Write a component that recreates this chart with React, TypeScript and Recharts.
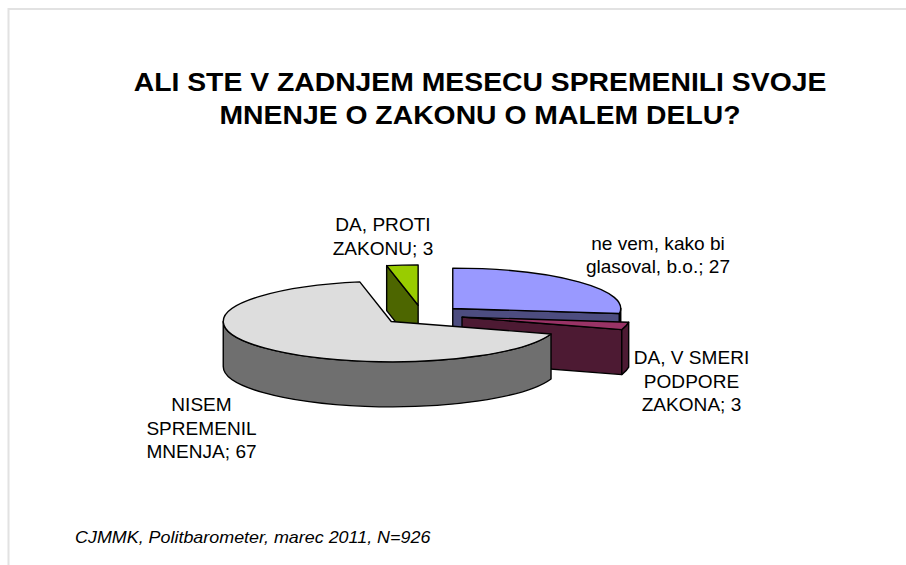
import { Pie, PieChart } from "recharts";

const FONT = "'Liberation Sans', Arial, sans-serif";

// drawing order = data order, green sits behind everything so it goes first
const categories = [
  "DA, PROTI ZAKONU",
  "ne vem, kako bi glasoval, b.o.",
  "DA, V SMERI PODPORE ZAKONA",
  "NISEM SPREMENIL MNENJA",
];
const values = [3, 27, 3, 67];
const titleLines = [
  "ALI STE V ZADNJEM MESECU SPREMENILI SVOJE",
  "MNENJE O ZAKONU O MALEM DELU?",
];
const source = "CJMMK, Politbarometer, marec 2011, N=926";

const topColors = ["#99cc00", "#9999ff", "#993366", "#dddddd"];
const sideColors = ["#4d6600", "#4d4d80", "#4d1a33", "#6f6f6f"];

// wrapped lines, block centre and first baseline of each label
const labelLayout = [
  { lines: ["DA, PROTI", "ZAKONU; 3"], x: 383, y: 231 },
  { lines: ["ne vem, kako bi", "glasoval, b.o.; 27"], x: 658, y: 249.5 },
  { lines: ["DA, V SMERI", "PODPORE", "ZAKONA; 3"], x: 691.5, y: 364 },
  { lines: ["NISEM", "SPREMENIL", "MNENJA; 67"], x: 201.5, y: 411 },
];

const chartData = categories.map((name, i) => ({ name, value: values[i] }));

const TILT = 0.24;
const DEPTH = 45;
const EXPLODE = 41;
const RAD = Math.PI / 180;
const STRETCH = 1.09; // the source picture is a bit wider than it is tall

function Slice3D(props: any) {
  const { cx, cy, outerRadius: r, startAngle: s, endAngle: e, index } = props;
  const mid = (s + e) / 2;
  // exploded apex of this slice
  const ax = cx + EXPLODE * Math.cos(mid * RAD);
  const ay = cy - EXPLODE * TILT * Math.sin(mid * RAD);
  const rim = (a: number, dy = 0) =>
    [ax + r * Math.cos(a * RAD), ay - r * TILT * Math.sin(a * RAD) + dy] as const;
  const arc = (from: number, to: number, dy = 0, back = false) => {
    const [x, y] = rim(to, dy);
    const large = Math.abs(from - to) > 180 ? 1 : 0;
    return `A${r} ${r * TILT} 0 ${large} ${back ? 0 : 1} ${x} ${y}`;
  };
  const wall = (a: number) => {
    const [x, y] = rim(a);
    return `M${ax} ${ay}L${x} ${y}L${x} ${y + DEPTH}L${ax} ${ay + DEPTH}Z`;
  };

  const side = sideColors[index];
  const parts: string[] = [];
  if (Math.cos(s * RAD) < -1e-6) parts.push(wall(s));
  if (Math.cos(e * RAD) > 1e-6) parts.push(wall(e));

  // outer rim: only the front half of the ellipse shows
  const from = Math.min(s, 0);
  const to = Math.max(e, -180);
  let rimPath = "";
  if (from > to) {
    const [x0, y0] = rim(from);
    const [x1, y1] = rim(to, DEPTH);
    rimPath = `M${x0} ${y0}${arc(from, to)}L${x1} ${y1}${arc(to, from, DEPTH, true)}Z`;
  }

  const [sx, sy] = rim(s);
  return (
    <g stroke="#000" strokeWidth={1.4} strokeLinejoin="round">
      {parts.map((d, i) => (
        <path key={i} d={d} fill={side} />
      ))}
      {rimPath && <path d={rimPath} fill={side} />}
      <path d={`M${ax} ${ay}L${sx} ${sy}${arc(s, e)}Z`} fill={topColors[index]} />
    </g>
  );
}

function SliceLabel({ index }: any) {
  const { lines, x, y } = labelLayout[index];
  return (
    <g>
      {lines.map((line, i) => (
        <text
          key={i}
          transform={`translate(${x} ${y + i * 23.5}) scale(${STRETCH} 1)`}
          textAnchor="middle"
          fontFamily={FONT}
          fontSize={17.5}
          fill="#000"
        >
          {line}
        </text>
      ))}
    </g>
  );
}

export default function App() {
  return (
    <div style={{ position: "absolute", left: 0, top: 0, width: 906, height: 565, background: "#fff" }}>
      <PieChart width={906} height={565} margin={{ top: 0, right: 0, bottom: 0, left: 0 }}>
        <path d="M8.5 565V9H906" fill="none" stroke="#e2e2e2" strokeWidth={2} />
        {titleLines.map((line, i) => (
          <text
            key={i}
            transform={`translate(480 ${91 + i * 33}) scale(${STRETCH} 1)`}
            textAnchor="middle"
            fontFamily={FONT}
            fontWeight="bold"
            fontSize={26}
            fill="#000"
          >
            {line}
          </text>
        ))}
        <Pie
          data={chartData}
          dataKey="value"
          nameKey="name"
          cx={422}
          cy={315}
          outerRadius={168}
          startAngle={100.8}
          endAngle={-259.2}
          paddingAngle={0}
          shape={Slice3D}
          label={SliceLabel}
          labelLine={false}
          isAnimationActive={false}
        />
        <text
          transform="translate(75 542.5) scale(1.12 1)"
          fontFamily={FONT}
          fontStyle="italic"
          fontSize={16}
          fill="#000"
        >
          {source}
        </text>
      </PieChart>
    </div>
  );
}
